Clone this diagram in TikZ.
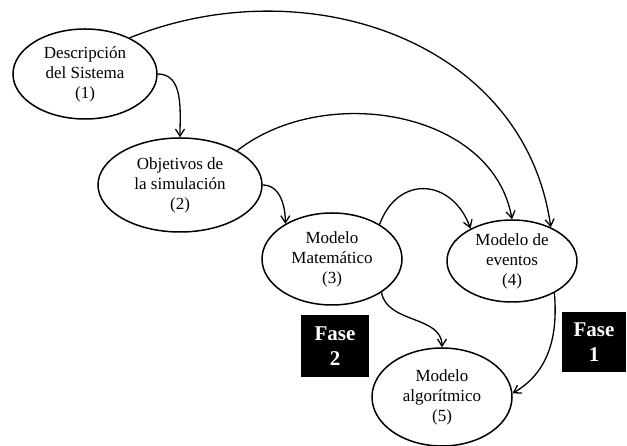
\documentclass[tikz,border=0pt]{standalone}
\usepackage{fontspec}
\setmainfont{Liberation Serif}
\usetikzlibrary{shapes.geometric,arrows.meta}

\begin{document}
\begin{tikzpicture}[x=1pt,y=1pt,
    etapa/.style={draw,line width=1.5pt,ellipse,inner sep=0pt,align=center,
                  font=\fontsize{17}{20}\selectfont},
    fase/.style={fill=black,text=white,align=center,inner sep=0pt,
                 font=\bfseries\fontsize{21}{25}\selectfont},
    flecha/.style={-{Straight Barb[length=7pt,width=9pt]},line width=1.3pt}]
    \useasboundingbox (0,0) rectangle (627,446);
    % etapas
    \node [etapa,minimum width=144,minimum height=90] (desc) at (85,372) {Descripción\\del Sistema\\(1)};
    \node [etapa,minimum width=164,minimum height=94] (obj) at (180,261) {Objetivos de\\la simulación\\(2)};
    \node [etapa,minimum width=140,minimum height=92] (mat) at (332,187) {Modelo\\Matemático\\(3)};
    \node [etapa,minimum width=130,minimum height=82] (evt) at (512,185) {Modelo de\\eventos\\(4)};
    \node [etapa,minimum width=140,minimum height=98] (alg) at (442,49) {Modelo\\algorítmico\\(5)};
    % fases
    \node [fase,minimum width=68,minimum height=62] (fase2) at (335,100) {Fase\\2};
    \node [fase,minimum width=64,minimum height=60] (fase1) at (594,104) {Fase\\1};
    % flechas
    \draw [flecha] (desc.east) to [out=0,in=90] (obj.north);
    \draw [flecha] (desc.39) to [out=22,in=98,looseness=1.05] (evt.41);
    \draw [flecha] (obj.31) to [out=38,in=100] (evt.north);
    \draw [flecha] (obj.east) to [out=0,in=90] (mat.143);
    \draw [flecha] (mat.36) to [out=70,in=110,looseness=1.5] (evt.142);
    \draw [flecha] (mat.-34) to [out=-80,in=90] (alg.north);
    \draw [flecha] (evt.-37) to [out=-85,in=30] (alg.3);
\end{tikzpicture}
\end{document}
